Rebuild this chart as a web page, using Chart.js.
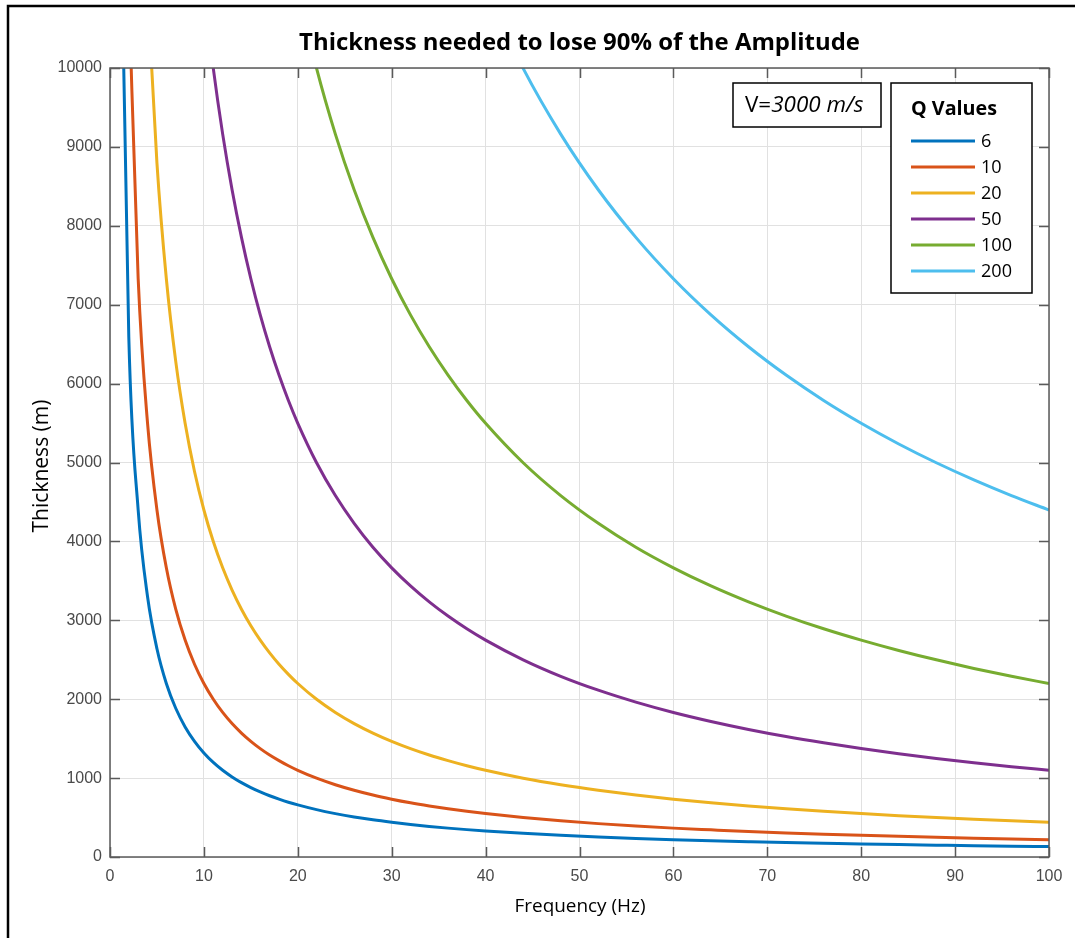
<!DOCTYPE html>
<html>
<head>
<meta charset="utf-8">
<title>Thickness needed to lose 90% of the Amplitude</title>
<script src="https://cdn.jsdelivr.net/npm/chart.js@4.4.1/dist/chart.umd.min.js"></script>
<style>
  html, body { margin: 0; padding: 0; background: #fff; }
  #wrap { width: 1075px; height: 938px; position: relative; }
</style>
</head>
<body>
<div id="wrap"><canvas id="thicknessChart"></canvas></div>
<script>
// frequency samples (Hz)
const freq = [1,2,3,4,5,6,7,8,9,10,11,12,13,14,15,16,17,18,19,20,
  22,24,26,28,30,32,34,36,38,40,
  44,48,52,56,60,64,68,72,76,80,84,88,92,96,100];

// thickness (m), one array per Q value
const q6 = [13193,6596,4398,3298,2639,2199,1885,1649,1466,1319,1199,1099,1015,942,880,825,776,733,694,660,
  600,550,507,471,440,412,388,366,347,330,
  300,275,254,236,220,206,194,183,174,165,157,150,143,137,132];
const q10 = [null,10994,7329,5497,4398,3665,3141,2749,2443,2199,1999,1832,1691,1571,1466,1374,1293,1222,1157,1099,
  999,916,846,785,733,687,647,611,579,550,
  500,458,423,393,366,344,323,305,289,275,262,250,239,229,220];
const q20 = [null,null,null,10994,8795,7329,6282,5497,4886,4398,3998,3665,3383,3141,2932,2749,2587,2443,2315,2199,
  1999,1832,1691,1571,1466,1374,1293,1222,1157,1099,
  999,916,846,785,733,687,647,611,579,550,524,500,478,458,440];
const q50 = [null,null,null,null,null,null,null,null,null,10994,9995,9162,8457,7853,7329,6871,6467,6108,5786,5497,
  4997,4581,4229,3926,3665,3436,3234,3054,2893,2749,
  2499,2290,2114,1963,1832,1718,1617,1527,1447,1374,1309,1249,1195,1145,1099];
const q100 = [null,null,null,null,null,null,null,null,null,null,null,null,null,null,null,null,null,null,null,10994,
  9995,9162,8457,7853,7329,6871,6467,6108,5786,5497,
  4997,4581,4229,3926,3665,3436,3234,3054,2893,2749,2618,2499,2390,2290,2199];
const q200 = [null,null,null,null,null,null,null,null,null,null,null,null,null,null,null,null,null,null,null,null,
  null,null,null,null,null,null,null,null,null,10994,
  9995,9162,8457,7853,7329,6871,6467,6108,5786,5497,5235,4997,4780,4581,4398];

const qLabels = ['6', '10', '20', '50', '100', '200'];
const qSeries = [q6, q10, q20, q50, q100, q200];
const qColors = ['#0072BD', '#D95319', '#EDB120', '#7E2F8E', '#77AC30', '#4DBEEE'];

const xTicks = [0, 10, 20, 30, 40, 50, 60, 70, 80, 90, 100];
const yTicks = [0, 1000, 2000, 3000, 4000, 5000, 6000, 7000, 8000, 9000, 10000];

const chartTitle = 'Thickness needed to lose 90% of the Amplitude';
const xTitle = 'Frequency (Hz)';
const yTitle = 'Thickness (m)';
const legendTitle = 'Q Values';

const axisColor = '#5a5a5a';
const gridColor = '#e1e1e1';
const tickFont = { family: '"Liberation Sans", Arial, sans-serif', size: 16 };
const textFamily = '"Open Sans", sans-serif';

// pick a font size so that the text spans the given width
function fitFont(ctx, text, style, width) {
  ctx.font = style + ' 100px ' + textFamily;
  const w = ctx.measureText(text).width;
  return style + ' ' + (100 * width / w).toFixed(2) + 'px ' + textFamily;
}

const overlay = {
  id: 'overlay',
  beforeDraw(chart) {
    const ctx = chart.ctx;
    ctx.save();
    ctx.fillStyle = '#fff';
    ctx.fillRect(0, 0, chart.width, chart.height);
    ctx.restore();
  },
  afterDatasetsDraw(chart) {
    const ctx = chart.ctx;
    const a = chart.chartArea;
    const sx = chart.scales.x, sy = chart.scales.y;
    ctx.save();

    // axes box + inward ticks
    ctx.strokeStyle = axisColor;
    ctx.lineWidth = 1.5;
    ctx.strokeRect(a.left, a.top, a.right - a.left, a.bottom - a.top);
    ctx.beginPath();
    xTicks.forEach(v => {
      const px = Math.round(sx.getPixelForValue(v)) + 0.5;
      ctx.moveTo(px, a.bottom); ctx.lineTo(px, a.bottom - 10);
      ctx.moveTo(px, a.top); ctx.lineTo(px, a.top + 10);
    });
    yTicks.forEach(v => {
      const py = Math.round(sy.getPixelForValue(v)) + 0.5;
      ctx.moveTo(a.left, py); ctx.lineTo(a.left + 10, py);
      ctx.moveTo(a.right, py); ctx.lineTo(a.right - 10, py);
    });
    ctx.stroke();

    // title and axis titles
    ctx.fillStyle = '#000';
    ctx.textAlign = 'center';
    ctx.textBaseline = 'middle';
    ctx.font = fitFont(ctx, chartTitle, 'bold', 561);
    ctx.fillText(chartTitle, (a.left + a.right) / 2, 43);
    ctx.font = fitFont(ctx, xTitle, 'normal', 131);
    ctx.fillText(xTitle, 580, 907);
    ctx.save();
    ctx.translate(42, 466);
    ctx.rotate(-Math.PI / 2);
    ctx.font = fitFont(ctx, yTitle, 'normal', 133);
    ctx.fillText(yTitle, 0, 0);
    ctx.restore();

    // velocity note
    ctx.fillStyle = '#fff';
    ctx.fillRect(733, 83, 148, 44);
    ctx.strokeStyle = '#000';
    ctx.lineWidth = 1.5;
    ctx.strokeRect(733, 83, 148, 44);
    ctx.fillStyle = '#000';
    ctx.textAlign = 'left';
    const partA = 'V=', partB = '3000 m/s';
    const noteFont = fitFont(ctx, 'V=3000 m/s', 'normal', 123);
    ctx.font = noteFont;
    ctx.fillText(partA, 745, 106);
    const wA = ctx.measureText(partA).width;
    ctx.font = noteFont.replace('normal', 'italic');
    ctx.fillText(partB, 745 + wA, 106);

    // legend
    ctx.fillStyle = '#fff';
    ctx.fillRect(891, 83, 141, 210);
    ctx.strokeStyle = '#000';
    ctx.strokeRect(891, 83, 141, 210);
    ctx.fillStyle = '#000';
    ctx.font = fitFont(ctx, legendTitle, 'bold', 86);
    ctx.fillText(legendTitle, 911, 109);
    const itemFont = fitFont(ctx, '200', 'normal', 31);
    qLabels.forEach((lab, i) => {
      const y = 141 + i * 26;
      ctx.strokeStyle = qColors[i];
      ctx.lineWidth = 3;
      ctx.beginPath();
      ctx.moveTo(911, y); ctx.lineTo(975, y);
      ctx.stroke();
      ctx.fillStyle = '#000';
      ctx.font = itemFont;
      ctx.fillText(lab, 981, y + 1);
    });

    // outer frame of the picture
    ctx.strokeStyle = '#000';
    ctx.lineWidth = 2.5;
    ctx.beginPath();
    ctx.moveTo(8, chart.height); ctx.lineTo(8, 6); ctx.lineTo(chart.width, 6);
    ctx.stroke();
    ctx.restore();
  }
};

const ctx = document.getElementById('thicknessChart');
new Chart(ctx, {
  type: 'line',
  data: {
    datasets: qLabels.map((lab, i) => ({
      label: lab,
      data: freq.map((f, j) => ({ x: f, y: qSeries[i][j] })),
      borderColor: qColors[i],
      backgroundColor: qColors[i],
      borderWidth: 3,
      pointRadius: 0,
      cubicInterpolationMode: 'monotone',
      fill: false
    }))
  },
  options: {
    responsive: true,
    maintainAspectRatio: false,
    animation: false,
    layout: { padding: { top: 68, right: 26, left: 0, bottom: 0 } },
    plugins: {
      legend: { display: false },
      title: { display: false },
      tooltip: { enabled: false }
    },
    scales: {
      x: {
        type: 'linear',
        min: 0,
        max: 100,
        ticks: { stepSize: 10, color: '#4a4a4a', font: tickFont, padding: 10, maxRotation: 0 },
        grid: { color: gridColor, drawTicks: false },
        border: { display: false },
        afterFit(scale) { scale.height = 81; }
      },
      y: {
        type: 'linear',
        min: 0,
        max: 10000,
        ticks: { stepSize: 1000, color: '#4a4a4a', font: tickFont, padding: 8, callback: v => String(v) },
        grid: { color: gridColor, drawTicks: false },
        border: { display: false },
        afterFit(scale) { scale.width = 110; }
      }
    }
  },
  plugins: [overlay]
});
</script>
</body>
</html>
